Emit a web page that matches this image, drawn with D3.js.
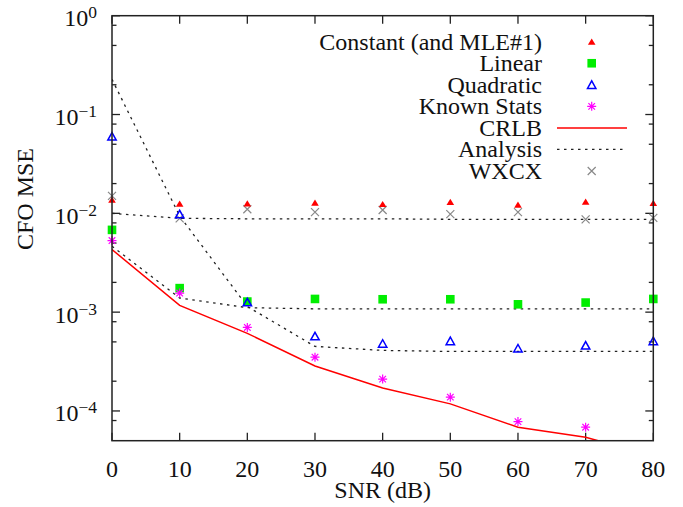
<!DOCTYPE html>
<html>
<head>
<meta charset="utf-8">
<script src="https://cdn.jsdelivr.net/npm/d3@7"></script>
<style>
  body { margin: 0; background: #fff; }
  svg text { font-family: "Liberation Serif", "Times New Roman", Times, "DejaVu Serif", serif; fill: #111; }
</style>
</head>
<body>
<svg width="683" height="507"></svg>
<script>
// values
const snr = [0, 10, 20, 30, 40, 50, 60, 70, 80];
const constantMse = [0.0137, 0.0125, 0.0126, 0.0128, 0.0124, 0.0130, 0.0122, 0.0131, 0.0127];
const linearMse = [0.0068, 0.00175, 0.00128, 0.00136, 0.00135, 0.00135, 0.00120, 0.00125, 0.00136];
const quadraticMse = [0.060, 0.0098, 0.00126, 0.00057, 0.00048, 0.00051, 0.00043, 0.00046, 0.00051];
const knownStatsMse = [0.0053, 0.00156, 0.0007, 0.00035, 0.00021, 0.000138, 0.000078, 0.0000685];
const crlbMse = [0.0043, 0.00117, 0.00061, 0.000285, 0.000171, 0.000118, 0.0000685, 0.0000542, 0.000035];
const analysisConst = [0.0100, 0.0089, 0.0088, 0.0088, 0.0088, 0.0087, 0.0087, 0.0087, 0.0087];
const analysisLinear = [0.00465, 0.00139, 0.00111, 0.00108, 0.00108, 0.00108, 0.00108, 0.00108, 0.00108];
const analysisQuad = [0.227, 0.0094, 0.00114, 0.00045, 0.00041, 0.0004, 0.0004, 0.0004, 0.0004];
const wxcxMse = [0.0150, 0.0089, 0.0110, 0.0103, 0.0108, 0.0098, 0.0103, 0.0087, 0.0090];

const xTicks = [0, 10, 20, 30, 40, 50, 60, 70, 80];
const yExponents = [0, -1, -2, -3, -4];
const minorMult = [2, 5, 8];
const legendNames = ['Constant (and MLE#1)', 'Linear', 'Quadratic', 'Known Stats', 'CRLB', 'Analysis', 'WXCX'];

const serif = '"Liberation Serif", "Times New Roman", Times, "DejaVu Serif", serif';
const svg = d3.select('svg');
const margin = {top: 15.7, right: 29.7, bottom: 66.3, left: 112};
const width = 683 - margin.left - margin.right;
const height = 507 - margin.top - margin.bottom;
const g = svg.append('g').attr('transform', `translate(${margin.left},${margin.top})`);

const x = d3.scaleLinear().domain([0, 80]).range([0, width]);
const y = d3.scaleLog().domain([5e-5, 1]).range([height, 0]);

const axisCol = '#222';

// minor y values inside the domain
const minorVals = [];
for (let e = -5; e < 0; e++) minorMult.forEach(m => {
  const v = m * Math.pow(10, e);
  if (v > 5e-5 && v < 1) minorVals.push(v);
});

// ticks (inward, mirrored)
const ticks = g.append('g').attr('stroke', axisCol).attr('stroke-width', 1.3);
xTicks.forEach(t => {
  ticks.append('line').attr('x1', x(t)).attr('x2', x(t)).attr('y1', height).attr('y2', height - 8);
  ticks.append('line').attr('x1', x(t)).attr('x2', x(t)).attr('y1', 0).attr('y2', 8);
});
yExponents.forEach(e => {
  const yy = y(Math.pow(10, e));
  ticks.append('line').attr('x1', 0).attr('x2', 8).attr('y1', yy).attr('y2', yy);
  ticks.append('line').attr('x1', width).attr('x2', width - 8).attr('y1', yy).attr('y2', yy);
});
minorVals.forEach(v => {
  const yy = y(v);
  ticks.append('line').attr('x1', 0).attr('x2', 4.5).attr('y1', yy).attr('y2', yy);
  ticks.append('line').attr('x1', width).attr('x2', width - 4.5).attr('y1', yy).attr('y2', yy);
});

// tick labels
g.append('g').selectAll('text').data(xTicks).join('text')
  .attr('x', d => x(d)).attr('y', height + 36)
  .attr('text-anchor', 'middle').attr('font-size', 24).attr('font-family', serif)
  .text(d => d);

const yLab = g.append('g').selectAll('text').data(yExponents).join('text')
  .attr('x', -15).attr('y', d => y(Math.pow(10, d)) + 10.4)
  .attr('text-anchor', 'end').attr('font-size', 24).attr('font-family', serif);
yLab.append('tspan').text('10');
yLab.append('tspan').attr('font-size', 17.5).attr('dy', -8)
  .text(d => d < 0 ? '\u2212' + (-d) : d);

// axis titles
svg.append('text').attr('x', margin.left + width / 2).attr('y', 498)
  .attr('text-anchor', 'middle').attr('font-size', 24).attr('font-family', serif).text('SNR (dB)');
svg.append('text').attr('transform', 'translate(33,199) rotate(-90)')
  .attr('text-anchor', 'middle').attr('font-size', 24).attr('font-family', serif).text('CFO MSE');

// clipping for lines
svg.append('defs').append('clipPath').attr('id', 'plotClip')
  .append('rect').attr('width', width).attr('height', height);

const line = d3.line().x((d, i) => x(snr[i])).y(d => y(d));
const lines = g.append('g').attr('clip-path', 'url(#plotClip)');
[analysisConst, analysisLinear, analysisQuad].forEach(s => {
  lines.append('path').attr('d', line(s)).attr('fill', 'none')
    .attr('stroke', '#222').attr('stroke-width', 1.3).attr('stroke-dasharray', '2.5,4.5');
});
lines.append('path').attr('d', line(crlbMse)).attr('fill', 'none')
  .attr('stroke', '#ff0000').attr('stroke-width', 1.5);

// marker drawers
const markers = {
  redTri: sel => sel.append('path').attr('d', 'M-3.8,3L3.8,3L0,-3.2Z').attr('fill', '#ff0000'),
  greenSq: sel => sel.append('rect').attr('x', -4.3).attr('y', -4.3).attr('width', 8.6).attr('height', 8.6).attr('fill', '#00ee00'),
  blueTri: sel => {
    sel.append('path').attr('d', 'M-4.2,3.6L4.2,3.6L0,-3.9Z').attr('fill', 'none')
      .attr('stroke', '#0000ff').attr('stroke-width', 1.5).attr('stroke-linejoin', 'miter');
  },
  star: sel => {
    const p = sel.append('path').attr('fill', 'none').attr('stroke', '#ff00ff').attr('stroke-width', 1.2);
    p.attr('d', 'M-4.5,0H4.5M0,-4.5V4.5M-3.3,-3.3L3.3,3.3M-3.3,3.3L3.3,-3.3');
  },
  cross: sel => sel.append('path').attr('d', 'M-4,-4L4,4M-4,4L4,-4')
    .attr('fill', 'none').attr('stroke', '#888').attr('stroke-width', 1.2)
};

const drawSeries = (vals, kind) => {
  g.append('g').selectAll('g').data(vals).join('g')
    .attr('transform', (d, i) => `translate(${x(snr[i])},${y(d)})`)
    .each(function () { markers[kind](d3.select(this)); });
};
drawSeries(wxcxMse, 'cross');
drawSeries(constantMse, 'redTri');
drawSeries(linearMse, 'greenSq');
drawSeries(quadraticMse, 'blueTri');
drawSeries(knownStatsMse, 'star');

// frame
g.append('rect').attr('width', width).attr('height', height)
  .attr('fill', 'none').attr('stroke', axisCol).attr('stroke-width', 1.5);

// legend
const legendKinds = ['redTri', 'greenSq', 'blueTri', 'star', 'line', 'dots', 'cross'];
const leg = svg.append('g');
legendNames.forEach((name, i) => {
  const ly = 41.7 + i * 21.55;
  leg.append('text').attr('x', 542).attr('y', ly + 8)
    .attr('text-anchor', 'end').attr('font-size', 24).attr('font-family', serif).text(name);
  const k = legendKinds[i];
  if (k === 'line') {
    leg.append('line').attr('x1', 557).attr('x2', 627).attr('y1', ly).attr('y2', ly)
      .attr('stroke', '#ff0000').attr('stroke-width', 1.5);
  } else if (k === 'dots') {
    leg.append('line').attr('x1', 557).attr('x2', 627).attr('y1', ly).attr('y2', ly)
      .attr('stroke', '#222').attr('stroke-width', 1.3).attr('stroke-dasharray', '2.5,4.5');
  } else {
    markers[k](leg.append('g').attr('transform', `translate(591.7,${ly})`));
  }
});
</script>
</body>
</html>
